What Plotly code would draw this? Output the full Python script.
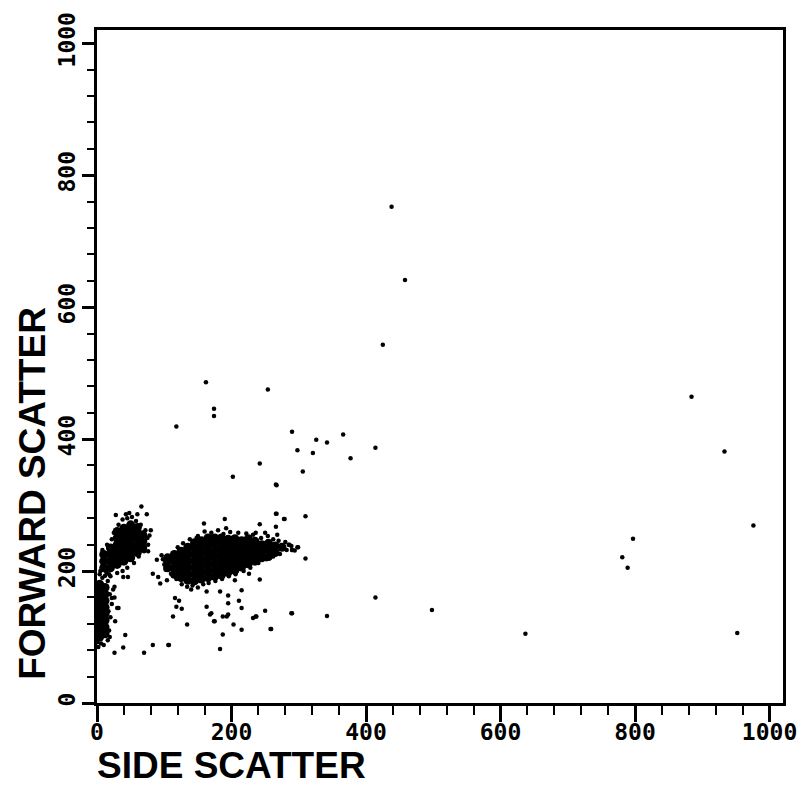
import plotly.graph_objects as go

# ---- data (side scatter, forward scatter) ----
# isolated events
sparse_x = [438, 458, 425, 290, 298, 306, 326, 321, 342, 366, 377, 414, 162, 254, 174, 174, 118,
            242, 202, 266, 266, 278, 310, 190, 286, 290, 298, 310, 290, 342, 414, 498, 637, 797,
            781, 789, 976, 952, 884, 933, 267, 267, 279, 159, 266, 242, 289, 299, 294]
sparse_y = [752, 641, 543, 411, 383, 351, 399, 379, 395, 407, 371, 387, 486, 475, 446, 435, 419,
            363, 343, 331, 287, 279, 283, 279, 240, 232, 236, 219, 136, 132, 160, 141, 105, 249,
            221, 205, 269, 106, 464, 381, 330, 287, 279, 272, 267, 271, 238, 236, 231]

# events scattered below / between the populations
low_x = [116, 122, 118, 126, 113, 134, 163, 168, 175, 183, 195, 195, 187, 195, 203, 211, 215, 215,
         215, 237, 242, 250, 259, 289, 187, 183, 106, 232, 236, 258, 250, 170, 193, 174, 163,
         78, 76, 89, 96, 83, 91, 94, 104, 39, 46, 26, 32, 27, 42, 39, 26, 70, 83, 107, 19, 22, 17, 30]
low_y = [159, 155, 146, 143, 131, 119, 146, 134, 124, 169, 163, 151, 131, 134, 119, 155, 171, 144,
         111, 131, 187, 140, 112, 136, 104, 82, 88, 129, 131, 112, 258, 136, 131, 124, 169,
         254, 230, 217, 224, 196, 191, 181, 186, 191, 191, 176, 144, 124, 103, 84, 76, 76, 88, 88, 100, 159, 139, 144]

# lymphocyte-like population (dense core)
pop2_core_x = [105, 105, 105,
               115, 115, 115, 115,
               125, 125, 125, 125, 125,
               135, 135, 135, 135, 135, 135,
               145, 145, 145, 145, 145, 145, 145,
               155, 155, 155, 155, 155, 155, 155,
               165, 165, 165, 165, 165, 165, 165,
               175, 175, 175, 175, 175, 175, 175,
               185, 185, 185, 185, 185, 185, 185,
               195, 195, 195, 195, 195, 195,
               205, 205, 205, 205, 205, 205,
               215, 215, 215, 215, 215,
               225, 225, 225, 225, 225,
               235, 235, 235, 235,
               245, 245, 245,
               255, 255, 255,
               265, 265,
               275]
pop2_core_y = [205, 215, 220,
               195, 205, 215, 225,
               190, 200, 210, 220, 230,
               186, 196, 206, 216, 226, 236,
               185, 195, 205, 215, 225, 235, 243,
               188, 198, 208, 218, 228, 238, 246,
               190, 200, 210, 220, 230, 240, 250,
               192, 202, 212, 222, 232, 242, 250,
               194, 204, 214, 224, 234, 244, 250,
               198, 208, 218, 228, 238, 248,
               201, 211, 221, 231, 241, 249,
               206, 216, 226, 236, 246,
               211, 221, 231, 241, 249,
               215, 225, 235, 245,
               220, 230, 240,
               222, 232, 242,
               228, 238,
               236]
pop2_edge_x = [120, 128, 138, 150, 160, 170, 180, 188, 198, 210, 222, 232, 244, 254, 262, 270, 280,
               285, 110, 118, 126, 134, 142, 150, 158, 166, 176, 186, 196, 206, 218, 228, 240, 252,
               262, 272, 282, 100, 98, 104, 102, 148, 192, 236, 268, 290, 140, 205, 226]
pop2_edge_y = [236, 242, 248, 253, 260, 258, 262, 256, 259, 258, 257, 255, 250, 253, 248, 246, 244,
               240, 196, 188, 180, 176, 178, 175, 180, 182, 185, 188, 192, 195, 200, 205, 212, 218,
               222, 226, 232, 210, 218, 222, 202, 250, 265, 258, 255, 232, 172, 186, 196]

# monocyte-like population near the axis
pop1_core_x = [10, 10, 10, 20, 20, 20, 20, 30, 30, 30, 30, 30, 30, 40, 40, 40, 40, 40, 40,
               50, 50, 50, 50, 50, 50, 60, 60, 60, 60, 60, 68, 68, 68]
pop1_core_y = [205, 215, 225, 205, 215, 225, 235, 210, 220, 230, 240, 250, 260, 215, 225, 235, 245, 255, 265,
               220, 230, 240, 250, 260, 270, 228, 238, 248, 258, 266, 235, 245, 255]
pop1_edge_x = [5, 8, 15, 22, 25, 32, 38, 45, 52, 58, 65, 72, 75, 76, 70, 62, 55, 45, 38, 30, 18, 12,
               28, 48, 60, 66, 74, 80, 43]
pop1_edge_y = [200, 232, 240, 248, 258, 270, 278, 280, 282, 276, 270, 262, 250, 240, 230, 222, 212,
               205, 200, 197, 195, 193, 285, 288, 286, 298, 286, 262, 286]

# debris population along the axis
pop3_core_x = [4, 4, 4, 4, 4, 4, 4, 4, 4, 12, 12, 12, 12, 12, 12, 12, 12]
pop3_core_y = [100, 110, 120, 130, 140, 150, 160, 170, 180, 105, 115, 125, 135, 145, 155, 165, 175]
pop3_edge_x = [16, 20, 8, 4, 14, 2, 6, 1, 18, 20, 22, 19, 24, 0, 0, 0, 26, 16, 10]
pop3_edge_y = [185, 192, 190, 195, 198, 85, 90, 92, 110, 130, 150, 165, 172, 120, 150, 175, 160, 95, 88]

major_ticks = [0, 200, 400, 600, 800, 1000]
tick_labels = ["0", "200", "400", "600", "800", "1000"]

dot = dict(color="black", size=4.5)
core = dict(color="black", size=9)

fig = go.Figure()
for xs, ys, m in [
    (pop2_core_x, pop2_core_y, core),
    (pop1_core_x, pop1_core_y, core),
    (pop3_core_x, pop3_core_y, core),
    (pop2_edge_x, pop2_edge_y, dot),
    (pop1_edge_x, pop1_edge_y, dot),
    (pop3_edge_x, pop3_edge_y, dot),
    (low_x, low_y, dot),
    (sparse_x, sparse_y, dot),
]:
    fig.add_trace(go.Scatter(x=xs, y=ys, mode="markers", marker=m,
                             showlegend=False, hoverinfo="skip", cliponaxis=False))

tickfont = dict(family="DejaVu Sans Mono", size=23, color="black", weight="bold")
axis_common = dict(
    range=[0, 1020], showline=True, linewidth=3, linecolor="black", mirror=True,
    ticks="outside", tickwidth=2.5, tickcolor="black",
    tickvals=major_ticks, ticktext=tick_labels, tickfont=tickfont,
    ticklabeloverflow="allow",
    showgrid=False, zeroline=False,
)
fig.update_xaxes(**axis_common, ticklen=16, ticklabelstandoff=-10,
                 minor=dict(dtick=40, tick0=0, ticks="outside", ticklen=9, tickwidth=2, tickcolor="black"))
fig.update_yaxes(**axis_common, tickangle=-90, ticklen=12, ticklabelstandoff=-2,
                 minor=dict(dtick=40, tick0=0, ticks="outside", ticklen=7, tickwidth=2, tickcolor="black"))

title_font = dict(family="Liberation Sans", size=37, color="black", weight="bold")
fig.add_annotation(text="SIDE SCATTER", xref="paper", yref="paper", x=-0.003, y=-0.093,
                   xanchor="left", yanchor="middle", showarrow=False, font=title_font)
fig.add_annotation(text="FORWARD SCATTER", xref="paper", yref="paper", x=-0.095, y=0.312,
                   xanchor="center", yanchor="middle", textangle=-90, showarrow=False, font=title_font)

fig.update_layout(
    width=810, height=788,
    margin=dict(l=97, r=27, t=20, b=85),
    plot_bgcolor="white", paper_bgcolor="white",
)
fig.write_html("out.html")
